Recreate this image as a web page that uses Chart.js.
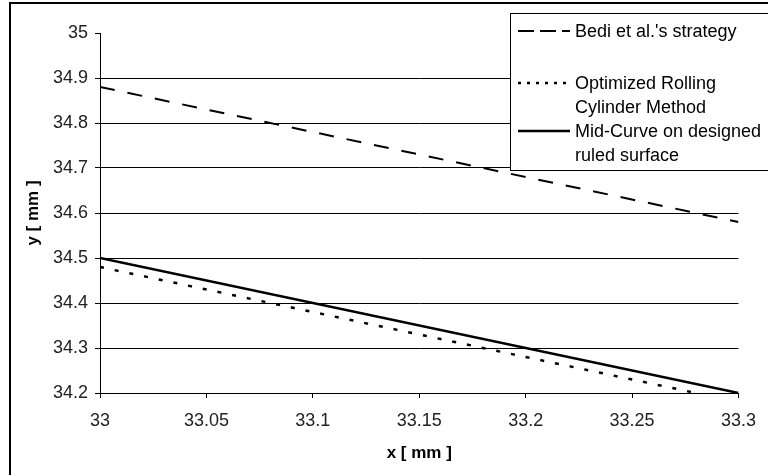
<!DOCTYPE html>
<html>
<head>
<meta charset="utf-8">
<script src="https://cdn.jsdelivr.net/npm/chart.js@4/dist/chart.umd.min.js"></script>
<style>
  html, body { margin: 0; padding: 0; background: #fff; }
  #wrap { width: 768px; height: 475px; }
</style>
</head>
<body>
<div id="wrap"><canvas id="lineChart" width="768" height="475"></canvas></div>
<script>
// x positions of the end points (mm)
const xValues = [33, 33.3];

// y values of each series (mm)
const bediY = [34.88, 34.58];
const rollingY = [34.48, 34.18];
const midCurveY = [34.5, 34.2];

// legend text, split as in the picture
const bediLabel = ["Bedi et al.'s strategy"];
const rollingLabel = ['Optimized Rolling', 'Cylinder Method'];
const midCurveLabel = ['Mid-Curve on designed', 'ruled surface'];

// axis ticks
const xTickValues = [33, 33.05, 33.1, 33.15, 33.2, 33.25, 33.3];
const xTickLabels = ['33', '33.05', '33.1', '33.15', '33.2', '33.25', '33.3'];
const yTickValues = [34.2, 34.3, 34.4, 34.5, 34.6, 34.7, 34.8, 34.9, 35];
const yTickLabels = ['34.2', '34.3', '34.4', '34.5', '34.6', '34.7', '34.8', '34.9', '35'];

const FONT = '"Liberation Sans", Arial, sans-serif';
const toPoints = ys => xValues.map((x, i) => ({ x: x, y: ys[i] }));

// white page + the frame around the figure
const framePlugin = {
    id: 'frame',
    beforeDraw(chart) {
        const c = chart.ctx;
        c.save();
        c.fillStyle = '#fff';
        c.fillRect(0, 0, chart.width, chart.height);
        c.strokeStyle = '#000';
        c.lineWidth = 2;
        c.strokeRect(10, 3, 900, 600);
        c.restore();
    }
};

// boxed legend in the upper right, like the original
const boxLegend = {
    id: 'boxLegend',
    afterDatasetsDraw(chart) {
        const c = chart.ctx;
        const rows = [31, 83, 131];
        c.save();
        c.fillStyle = '#fff';
        c.fillRect(510, 13, 300, 158);
        c.strokeStyle = '#000';
        c.lineWidth = 1;
        c.strokeRect(510.5, 13.5, 300, 157);

        chart.data.datasets.forEach((ds, i) => {
            const y = rows[i];
            c.strokeStyle = '#000';
            c.lineWidth = ds.borderWidth;
            c.setLineDash(ds.legendDash);
            c.beginPath();
            c.moveTo(518, y);
            c.lineTo(570, y);
            c.stroke();
            c.setLineDash([]);

            c.fillStyle = '#000';
            c.font = '18px ' + FONT;
            c.textBaseline = 'middle';
            c.textAlign = 'left';
            ds.legendLines.forEach((line, j) => {
                c.fillText(line, 575, y + 1 + j * 24);
            });
        });
        c.restore();
    }
};

const ctx = document.getElementById('lineChart');

new Chart(ctx, {
    type: 'line',
    data: {
        datasets: [
            {
                label: bediLabel.join(' '),
                legendLines: bediLabel,
                data: toPoints(bediY),
                borderColor: '#000',
                borderWidth: 2,
                borderDash: [15, 13],
                legendDash: [16, 6],
                pointRadius: 0,
                fill: false
            },
            {
                label: rollingLabel.join(' '),
                legendLines: rollingLabel,
                data: toPoints(rollingY),
                borderColor: '#000',
                borderWidth: 2.5,
                borderDash: [4, 11],
                legendDash: [3, 6],
                pointRadius: 0,
                fill: false,
                clip: 0
            },
            {
                label: midCurveLabel.join(' '),
                legendLines: midCurveLabel,
                data: toPoints(midCurveY),
                borderColor: '#000',
                borderWidth: 2.5,
                borderDash: [],
                legendDash: [],
                pointRadius: 0,
                fill: false
            }
        ]
    },
    options: {
        responsive: false,
        animation: false,
        devicePixelRatio: 1,
        layout: { padding: { left: 0, top: 33, right: 27, bottom: 0 } },
        plugins: {
            legend: { display: false },
            tooltip: { enabled: false }
        },
        scales: {
            x: {
                type: 'linear',
                min: 33,
                max: 33.3,
                afterBuildTicks: scale => { scale.ticks = xTickValues.map(v => ({ value: v })); },
                afterFit: scale => { scale.height = 82; },
                ticks: {
                    callback: (v, i) => xTickLabels[i],
                    color: '#222',
                    font: { family: FONT, size: 18 },
                    padding: 12,
                    maxRotation: 0,
                    autoSkip: false
                },
                grid: {
                    drawOnChartArea: false,
                    drawTicks: true,
                    tickLength: 5,
                    tickColor: '#000',
                    lineWidth: 1
                },
                border: { display: true, color: '#000', width: 1 },
                title: {
                    display: true,
                    text: 'x [ mm ]',
                    color: '#000',
                    font: { family: FONT, size: 17, weight: 'bold' },
                    padding: { top: 0, bottom: 11 }
                }
            },
            y: {
                type: 'linear',
                min: 34.2,
                max: 35,
                afterBuildTicks: scale => { scale.ticks = yTickValues.map(v => ({ value: v })); },
                afterFit: scale => { scale.width = 100; },
                ticks: {
                    callback: (v, i) => yTickLabels[i],
                    color: '#222',
                    font: { family: FONT, size: 18 },
                    padding: 7,
                    autoSkip: false
                },
                grid: {
                    color: c => (c.tick && c.tick.value === 35) ? 'rgba(0,0,0,0)' : '#000',
                    tickColor: '#000',
                    tickLength: 5,
                    lineWidth: 1
                },
                border: { display: true, color: '#000', width: 1 },
                title: {
                    display: true,
                    text: 'y [ mm ]',
                    color: '#000',
                    font: { family: FONT, size: 17, weight: 'bold' },
                    padding: { top: 23, bottom: 0 }
                }
            }
        }
    },
    plugins: [framePlugin, boxLegend]
});
</script>
</body>
</html>
